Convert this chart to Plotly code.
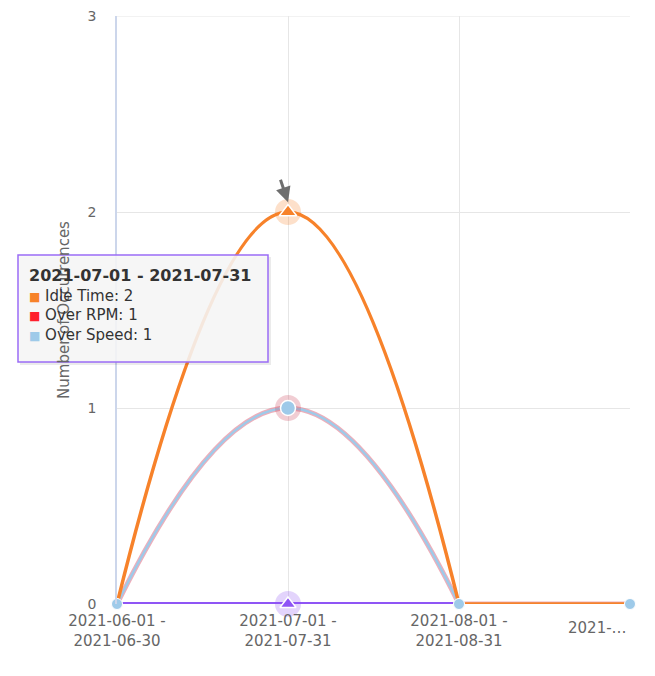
import plotly.graph_objects as go

categories = ["2021-06-01 - 2021-06-30", "2021-07-01 - 2021-07-31",
              "2021-08-01 - 2021-08-31", "2021-…"]
tick_labels = ["2021-06-01 -<br>2021-06-30", "2021-07-01 -<br>2021-07-31",
               "2021-08-01 -<br>2021-08-31", ""]
last_tick_label = "2021-…"
y_ticks = [0, 1, 2, 3]
idle_time = [0, 2, 0, 0]
over_rpm = [0, 1, 0, 0]
over_speed = [0, 1, 0, 0]
other = [0, 0, 0]
hover_index = 1

C_IDLE = "#f7822a"
C_RPM = "#ff1f2d"
C_SPEED = "#9ecae9"
C_OTHER = "#8f55f5"
FONT = "DejaVu Sans, Verdana, sans-serif"

# page body has an 8px margin -> work in window pixels, shifted
OFF = 8
W, H = 655 - OFF, 676 - OFF
L, R, T, B = 117 - OFF, 25, 16 - OFF, 72
pw, ph = W - L - R, H - T - B

fig = go.Figure()

def add_lines(vals, color, width, opacity=1.0):
    n = len(vals)
    cut = min(3, n)
    fig.add_trace(go.Scatter(
        x=categories[:cut], y=vals[:cut], mode="lines",
        line=dict(color=color, width=width, shape="spline", smoothing=1.3),
        opacity=opacity, cliponaxis=False, showlegend=False, hoverinfo="skip"))
    if n > 3:
        fig.add_trace(go.Scatter(
            x=categories[2:n], y=vals[2:n], mode="lines",
            line=dict(color=color, width=width), opacity=opacity,
            cliponaxis=False, showlegend=False, hoverinfo="skip"))

def add_markers(vals, color, symbol, msize):
    fig.add_trace(go.Scatter(
        x=categories[:len(vals)], y=vals, mode="markers",
        marker=dict(color=color, size=msize, symbol=symbol,
                    line=dict(color="white", width=1)),
        cliponaxis=False, showlegend=False, hoverinfo="skip"))

def add_hover(vals, color, symbol, size, halo_color, draw_marker=True):
    x = [categories[hover_index]]
    y = [vals[hover_index]]
    fig.add_trace(go.Scatter(x=x, y=y, mode="markers",
                             marker=dict(color=halo_color, size=26, symbol="circle"),
                             cliponaxis=False, showlegend=False, hoverinfo="skip"))
    if draw_marker:
        fig.add_trace(go.Scatter(x=x, y=y, mode="markers",
                                 marker=dict(color=color, size=size, symbol=symbol,
                                             line=dict(color="white", width=1.5)),
                                 cliponaxis=False, showlegend=False, hoverinfo="skip"))

add_lines(other, C_OTHER, 4)
add_lines(over_rpm, "rgba(225,120,140,0.6)", 5)
add_lines(over_speed, C_SPEED, 2.5)
add_lines(idle_time, C_IDLE, 3.5)

add_markers(idle_time, "#f08060", "triangle-up", 10)
add_markers(over_rpm, "rgba(225,120,140,0.6)", "circle", 10)
add_markers(over_speed, C_SPEED, "circle", 11)

add_hover(other, C_OTHER, "triangle-up", 14, "rgba(143,85,245,0.25)")
add_hover(idle_time, C_IDLE, "triangle-up", 15, "rgba(247,130,42,0.25)")
add_hover(over_rpm, C_RPM, "circle", 14, "rgba(210,90,110,0.3)", draw_marker=False)
add_hover(over_speed, C_SPEED, "circle", 15, "rgba(0,0,0,0)")

def px_x(p):
    return (p - OFF - L) / pw

def px_y(p):
    return (H - B - (p - OFF)) / ph

# top gridline (plotly omits the one on the plot edge)
fig.add_shape(type="line", xref="paper", yref="y", x0=0, x1=1,
              y0=y_ticks[-1], y1=y_ticks[-1], line=dict(color="#e6e6e6", width=1),
              layer="below")

# tooltip box
fig.add_shape(type="rect", xref="paper", yref="paper",
              x0=px_x(20), x1=px_x(271), y0=px_y(365), y1=px_y(257),
              fillcolor="rgba(0,0,0,0.08)", line=dict(width=0), layer="above")
fig.add_shape(type="rect", xref="paper", yref="paper",
              x0=px_x(18), x1=px_x(268), y0=px_y(362), y1=px_y(255),
              fillcolor="rgba(247,247,247,0.88)",
              line=dict(color="#9b6cf6", width=1.5), layer="above")

sq = "<span style='color:{};font-size:12px'>■</span> "
tip = ("<span style='font-size:16px'><b>" + categories[hover_index] + "</b></span><br>"
       + sq.format(C_IDLE) + f"Idle Time: {idle_time[hover_index]}<br>"
       + sq.format(C_RPM) + f"Over RPM: {over_rpm[hover_index]}<br>"
       + sq.format(C_SPEED) + f"Over Speed: {over_speed[hover_index]}")
fig.add_annotation(xref="paper", yref="paper", x=px_x(27), y=px_y(264),
                   xanchor="left", yanchor="top", align="left", showarrow=False,
                   text=tip, font=dict(family=FONT, size=15, color="#333333"))

# last (truncated) category label, kept inside the chart
fig.add_annotation(x=categories[3], xref="x", yref="paper", y=0, yshift=-13,
                   xanchor="right", yanchor="top", xshift=-1, showarrow=False,
                   text=last_tick_label, font=dict(family=FONT, size=15, color="#666666"))

# mouse cursor
fig.add_annotation(x=categories[hover_index], y=2.05, ax=-8, ay=-24, text="",
                   showarrow=True, arrowhead=2, arrowsize=1, arrowwidth=3,
                   arrowcolor="#6e6e6e")

fig.update_layout(
    width=W, height=H,
    margin=dict(l=L, r=R, t=T, b=B, autoexpand=False),
    paper_bgcolor="white", plot_bgcolor="white",
    font=dict(family=FONT, color="#666666", size=14),
    showlegend=False,
    xaxis=dict(type="category", range=[0, 3], tickvals=categories, ticktext=tick_labels,
               showgrid=True, gridcolor="#e6e6e6", gridwidth=1, zeroline=False,
               showline=False, ticks="", ticklabelstandoff=6,
               tickfont=dict(size=15, color="#666666")),
    yaxis=dict(range=[0, 3], tickmode="array", tickvals=y_ticks,
               ticktext=[str(v) for v in y_ticks],
               showgrid=True, gridcolor="#e6e6e6",
               zeroline=False, showline=True, linecolor="#ccd6eb", linewidth=1.5,
               ticks="", ticklabelstandoff=16, ticklabeloverflow="allow",
               tickfont=dict(size=14, color="#666666"),
               title=dict(text="Number of Occurrences", standoff=14,
                          font=dict(size=15, color="#666666"))),
)

fig.write_html("out.html")
